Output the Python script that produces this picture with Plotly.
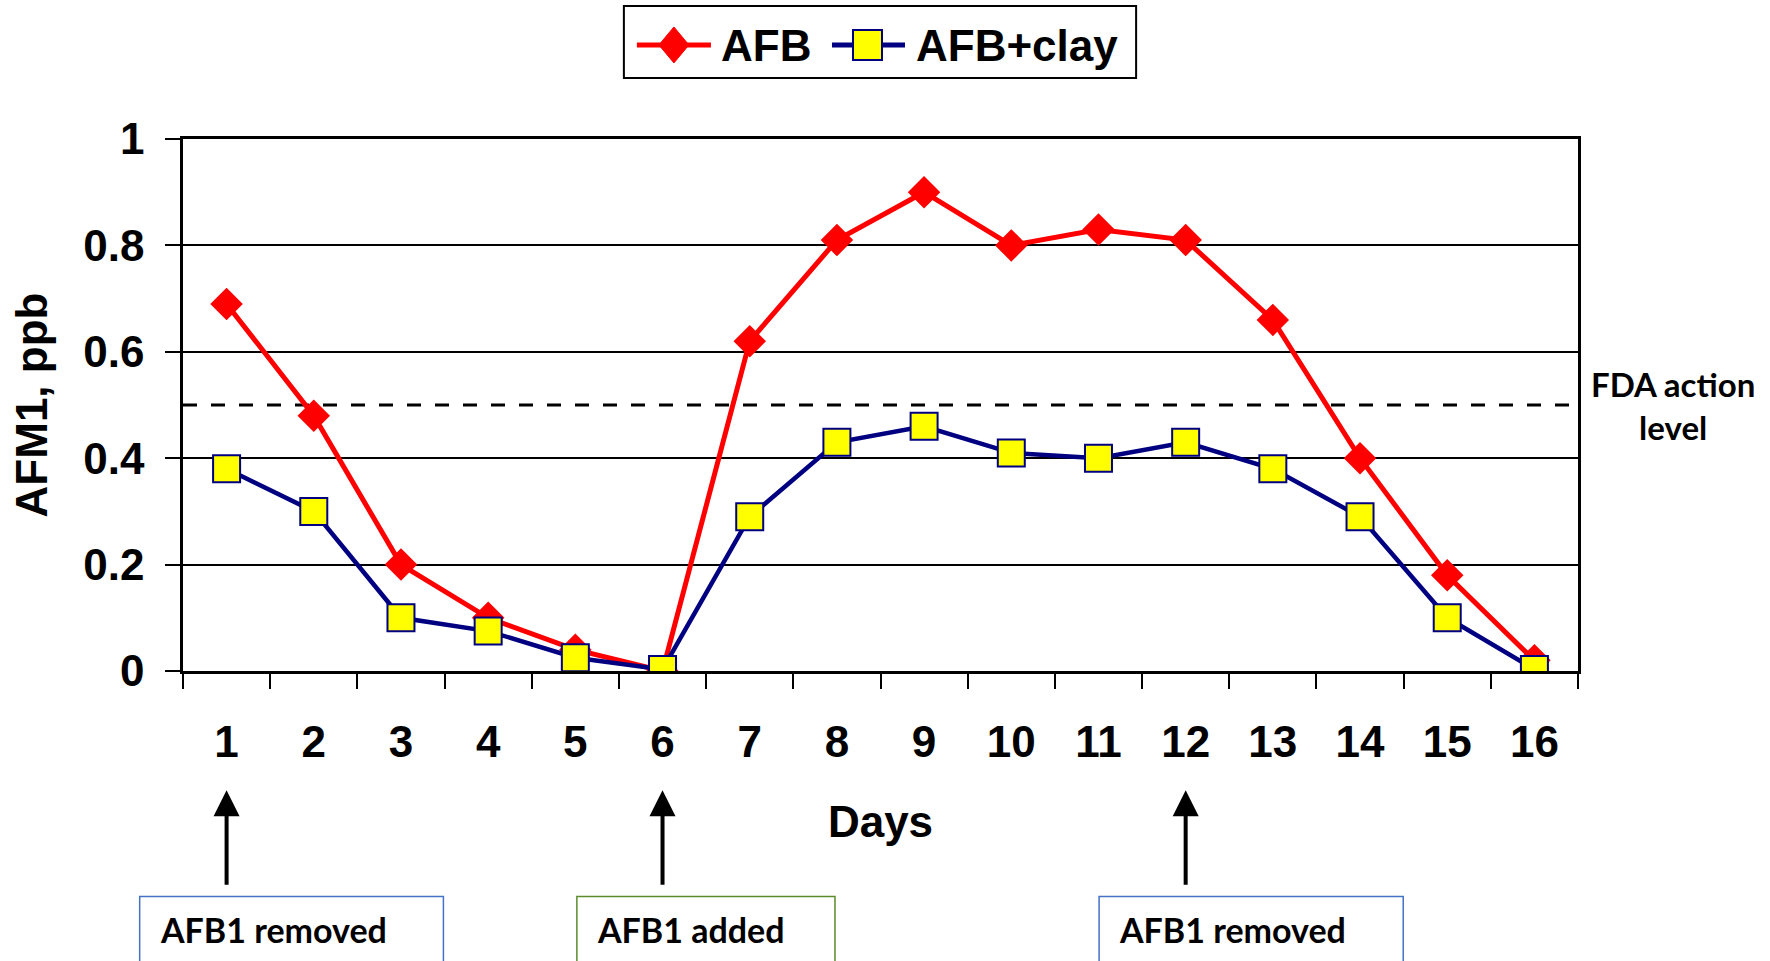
import plotly.graph_objects as go

days = [str(d) for d in range(1, 17)]
afb = [0.69, 0.48, 0.20, 0.10, 0.04, 0.00, 0.62, 0.81, 0.90, 0.80, 0.83, 0.81, 0.66, 0.40, 0.18, 0.02]
afb_clay = [0.38, 0.30, 0.10, 0.075, 0.025, 0.003, 0.29, 0.43, 0.46, 0.41, 0.40, 0.43, 0.38, 0.29, 0.10, 0.003]
fda_level = 0.5
y_ticks = [0, 0.2, 0.4, 0.6, 0.8, 1]
events = [("1", "AFB1 removed", "#4472C4"), ("6", "AFB1 added", "#5B8C2A"), ("12", "AFB1 removed", "#4472C4")]

RED = "#FF0000"
NAVY = "#000080"
YELLOW = "#FFFF00"
ARIAL = "Arial, Liberation Sans"

L, R, T, B = 183.3, 1577.7, 139.0, 670.7
W, H = R - L, B - T


def px(x):
    return (x - L) / W


def py(y):
    return (B - y) / H


fig = go.Figure()
fig.add_trace(go.Scatter(
    x=days, y=afb, name="AFB", mode="lines+markers",
    line=dict(color=RED, width=5),
    marker=dict(symbol="diamond", size=25, color=RED),
))
fig.add_trace(go.Scatter(
    x=days, y=afb_clay, name="AFB+clay", mode="lines+markers",
    line=dict(color=NAVY, width=4.5),
    marker=dict(symbol="square", size=27, color=YELLOW, line=dict(color=NAVY, width=2)),
))

fig.add_shape(type="line", xref="paper", yref="y", x0=0, x1=1, y0=fda_level, y1=fda_level,
              line=dict(color="black", width=3, dash="14px,14px"), layer="below")

annotations = []
annotations.append(dict(xref="paper", yref="y", x=px(1673), y=fda_level, text="FDA action<br>level",
                        showarrow=False, font=dict(family="Lato", size=33, color="black", weight="bold"),
                        xanchor="center", yanchor="middle", align="center"))

box_px = [(140, 443.6), (577, 835), (1099, 1403)]
for (day, label, col), (x0, x1) in zip(events, box_px):
    annotations.append(dict(xref="x", yref="paper", x=days.index(day), y=py(790), ax=0, ay=96,
                            text="", showarrow=True, arrowhead=2, arrowsize=1.3, arrowwidth=4,
                            arrowcolor="black"))
    fig.add_shape(type="rect", xref="paper", yref="paper", x0=px(x0), x1=px(x1),
                  y0=py(1000), y1=py(896), line=dict(color=col, width=1.5))
    annotations.append(dict(xref="paper", yref="paper", x=px(x0 + 18), y=py(929), text=label,
                            showarrow=False, xanchor="left", yanchor="middle",
                            font=dict(family="Lato", size=34, color="black", weight="bold")))

# custom legend (box, line samples, markers, labels)
ly = 45
fig.add_shape(type="rect", xref="paper", yref="paper", x0=px(624), x1=px(1136), y0=py(78), y1=py(6),
              line=dict(color="black", width=2), fillcolor="white")
fig.add_shape(type="line", xref="paper", yref="paper", x0=px(637), x1=px(711), y0=py(ly), y1=py(ly),
              line=dict(color=RED, width=5))
dcx, dhw, dhh = 674, 15, 18
fig.add_shape(type="path", xref="paper", yref="paper",
              path="M %f %f L %f %f L %f %f L %f %f Z" % (
                  px(dcx - dhw), py(ly), px(dcx), py(ly - dhh), px(dcx + dhw), py(ly), px(dcx), py(ly + dhh)),
              fillcolor=RED, line=dict(color=RED, width=1))
fig.add_shape(type="line", xref="paper", yref="paper", x0=px(832), x1=px(905), y0=py(ly), y1=py(ly),
              line=dict(color=NAVY, width=5))
fig.add_shape(type="rect", xref="paper", yref="paper", x0=px(853), x1=px(882), y0=py(ly + 15), y1=py(ly - 15),
              fillcolor=YELLOW, line=dict(color=NAVY, width=2))
annotations.append(dict(xref="paper", yref="paper", x=px(719), y=py(ly + 1), text="AFB", showarrow=False,
                        xanchor="left", yanchor="middle", font=dict(family=ARIAL, size=44, weight="bold")))
annotations.append(dict(xref="paper", yref="paper", x=px(914), y=py(ly + 1), text="AFB+clay", showarrow=False,
                        xanchor="left", yanchor="middle", font=dict(family=ARIAL, size=44, weight="bold")))

fig.update_layout(
    width=1770, height=961,
    margin=dict(l=L, r=1770 - R, t=T, b=961 - B, autoexpand=False),
    paper_bgcolor="white", plot_bgcolor="white",
    font=dict(family=ARIAL, color="black", size=44, weight="bold"),
    showlegend=False,
    annotations=annotations,
)
fig.update_xaxes(
    type="category", range=[-0.5, 15.5], tickson="boundaries",
    ticks="outside", ticklen=15, tickwidth=2, tickcolor="black",
    showline=True, linecolor="black", linewidth=2.5, mirror=True,
    showgrid=False, ticklabelstandoff=30,
    tickfont=dict(size=44, family=ARIAL, weight="bold"),
    title=dict(text="Days", standoff=42, font=dict(size=44, family=ARIAL, weight="bold")),
)
fig.update_yaxes(
    range=[0, 1], tickvals=y_ticks, ticktext=[("%g" % v) for v in y_ticks],
    ticks="outside", ticklen=15, tickwidth=2, tickcolor="black",
    showline=True, linecolor="black", linewidth=2.5, mirror=True,
    showgrid=True, gridcolor="black", gridwidth=2, zeroline=False,
    ticklabelstandoff=12,
    tickfont=dict(size=44, family=ARIAL, weight="bold"),
    title=dict(text="AFM1, ppb", standoff=22, font=dict(size=44, family=ARIAL, weight="bold")),
)

fig.write_html("out.html")
